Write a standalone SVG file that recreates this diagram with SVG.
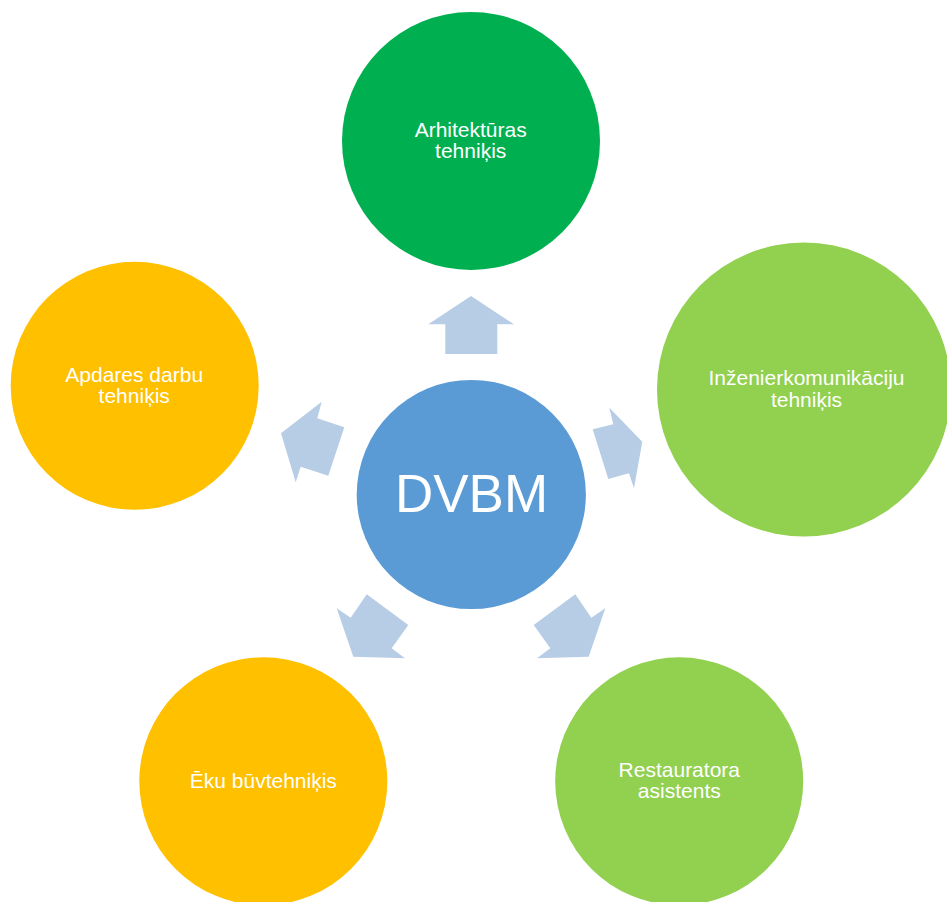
<svg xmlns="http://www.w3.org/2000/svg" width="947" height="902" viewBox="0 0 947 902">
<style>
.lbl{font-family:"Liberation Sans",Arial,sans-serif;font-size:21px;fill:#ffffff;text-anchor:middle}
.big{font-family:"Liberation Sans",Arial,sans-serif;font-size:53px;fill:#ffffff;text-anchor:middle}
.arr{fill:#B7CDE6}
</style>
<rect width="947" height="902" fill="#ffffff"/>
<g id="connectors">
<polygon class="arr" points="471,296 514,324.3 497.3,324.3 497.3,354 445.3,354 445.3,324.3 428.3,324.3"/>
<polygon class="arr" points="592.7,429.3 613.3,424.3 609.3,407.7 642.3,441.7 634,488.3 629,473.3 608.3,479"/>
<polygon class="arr" points="344.3,427.3 317.3,418.3 321.7,401.7 281,433.3 295.7,482.3 300.7,466.7 328.3,475.7"/>
<polygon class="arr" points="366.7,594.3 408.3,625 391.7,648.3 405,658.3 353.3,656.7 336.7,608.3 350.7,617.7"/>
<polygon class="arr" points="575.3,594.3 533.7,625 550.3,648.3 537,658.3 588.7,656.7 605.3,608.3 591.3,617.7"/>
</g>
<g id="center">
<circle cx="471.3" cy="494.5" r="114.6" fill="#5B9BD5"/>
<text class="big" x="471.5" y="511.7">DVBM</text>
</g>
<g id="arhitekturas">
<circle cx="471" cy="141" r="129" fill="#00B050"/>
<text class="lbl" x="470.7" y="136.7">Arhitektūras</text>
<text class="lbl" x="470.7" y="158.3">tehniķis</text>
</g>
<g id="inzenierkomunikaciju">
<circle cx="804" cy="389.5" r="147" fill="#92D050"/>
<text class="lbl" x="806.5" y="385">Inženierkomunikāciju</text>
<text class="lbl" x="806.5" y="406.7">tehniķis</text>
</g>
<g id="restauratora">
<circle cx="679.2" cy="781.3" r="124" fill="#92D050"/>
<text class="lbl" x="679.3" y="776.7">Restauratora</text>
<text class="lbl" x="679.3" y="798.3">asistents</text>
</g>
<g id="eku">
<circle cx="263.3" cy="781.3" r="124" fill="#FFC000"/>
<text class="lbl" x="263.3" y="787.7">Ēku būvtehniķis</text>
</g>
<g id="apdares">
<circle cx="134.7" cy="385.8" r="124" fill="#FFC000"/>
<text class="lbl" x="134.2" y="382">Apdares darbu</text>
<text class="lbl" x="134.2" y="403.3">tehniķis</text>
</g>
</svg>
